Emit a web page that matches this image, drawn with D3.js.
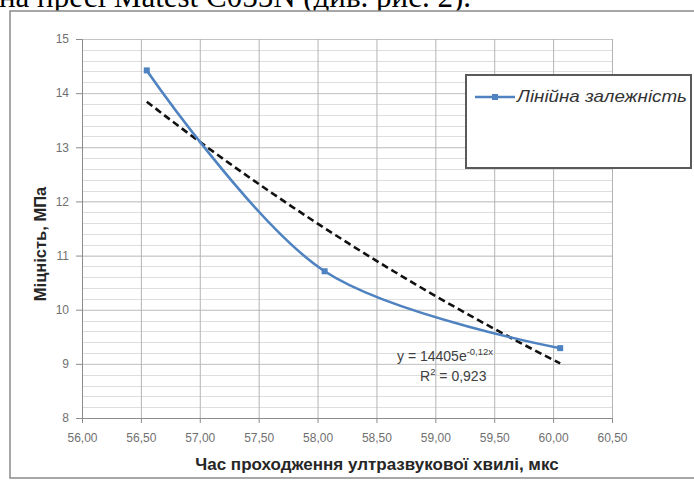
<!DOCTYPE html>
<html>
<head>
<meta charset="utf-8">
<script src="https://cdn.jsdelivr.net/npm/d3@7"></script>
<style>
  body { margin: 0; background: #fff; }
  svg { display: block; }
</style>
</head>
<body>
<svg id="chart" width="694" height="482"></svg>
<script>
// data
const timeValues = [56.55, 58.06, 60.06];      // мкс
const strengthValues = [14.42, 10.71, 9.29];   // МПа
const xTicks = [56, 56.5, 57, 57.5, 58, 58.5, 59, 59.5, 60, 60.5];
const yTicks = [8, 9, 10, 11, 12, 13, 14, 15];
const seriesName = "Лінійна залежність";
const equationText = "y = 14405e";
const equationPower = "-0,12x";
const rSquaredText = "0,923";

const svg = d3.select("#chart");
const fontSans = "'Liberation Sans', Arial, sans-serif";

// page text cut at the top
svg.append("text")
  .attr("x", -1).attr("y", 7)
  .attr("font-family", "'Liberation Serif', 'Times New Roman', serif")
  .attr("font-size", 31)
  .attr("fill", "#000")
  .text("на пресі Matest C055N (див. рис. 2).");

// chart frame
svg.append("rect")
  .attr("x", 10).attr("y", 11)
  .attr("width", 700).attr("height", 467)
  .attr("fill", "#fff")
  .attr("stroke", "#8a8a8a").attr("stroke-width", 1.5);

const plot = { left: 82, right: 612, top: 39, bottom: 418 };

const x = d3.scaleLinear().domain([56, 60.5]).range([plot.left, plot.right]);
const y = d3.scaleLinear().domain([8, 15]).range([plot.bottom, plot.top]);

// minor horizontal gridlines
const minorY = d3.range(8, 15.001, 0.2);
svg.append("g").selectAll("line")
  .data(minorY)
  .join("line")
  .attr("x1", plot.left).attr("x2", plot.right)
  .attr("y1", d => Math.round(y(d)) + 0.5).attr("y2", d => Math.round(y(d)) + 0.5)
  .attr("stroke", "#dedede");

// major horizontal gridlines
svg.append("g")
  .attr("transform", `translate(${plot.left},0)`)
  .call(d3.axisLeft(y).tickValues(yTicks).tickSize(-(plot.right - plot.left)).tickFormat(""))
  .call(g => g.select(".domain").remove())
  .call(g => g.selectAll("line").attr("stroke", "#c4c4c4"));

// vertical gridlines
svg.append("g")
  .attr("transform", `translate(0,${plot.bottom})`)
  .call(d3.axisBottom(x).tickValues(xTicks).tickSize(-(plot.bottom - plot.top)).tickFormat(""))
  .call(g => g.select(".domain").remove())
  .call(g => g.selectAll("line").attr("stroke", "#b4b4b4"));

// y axis
svg.append("g")
  .attr("transform", `translate(${plot.left},0)`)
  .call(d3.axisLeft(y).tickValues(yTicks).tickSize(6).tickPadding(7).tickFormat(d3.format("d")))
  .call(g => g.select(".domain").attr("stroke", "#8c8c8c"))
  .call(g => g.selectAll("line").attr("stroke", "#8c8c8c"))
  .call(g => g.selectAll("text")
    .attr("font-family", fontSans).attr("font-size", 12).attr("fill", "#707070"));

// x axis
const commaFmt = d => d3.format(".2f")(d).replace(".", ",");
svg.append("g")
  .attr("transform", `translate(0,${plot.bottom})`)
  .call(d3.axisBottom(x).tickValues(xTicks).tickSize(5).tickPadding(10).tickFormat(commaFmt))
  .call(g => g.select(".domain").attr("stroke", "#8c8c8c"))
  .call(g => g.selectAll("line").attr("stroke", "#8c8c8c"))
  .call(g => g.selectAll("text")
    .attr("font-family", fontSans).attr("font-size", 12).attr("fill", "#707070"));

// axis titles
svg.append("text")
  .attr("x", 377).attr("y", 470)
  .attr("text-anchor", "middle")
  .attr("font-family", fontSans).attr("font-size", 17).attr("font-weight", "bold")
  .attr("fill", "#262626")
  .text("Час проходження ултразвукової хвилі, мкс");

svg.append("text")
  .attr("transform", "translate(46,244) rotate(-90)")
  .attr("text-anchor", "middle")
  .attr("font-family", fontSans).attr("font-size", 16.5).attr("font-weight", "bold")
  .attr("fill", "#262626")
  .text("Міцність, МПа");

// exponential trendline fitted from the points (least squares on ln y)
const points = timeValues.map((t, i) => ({ t, s: strengthValues[i] }));
const mx = d3.mean(points, p => p.t);
const my = d3.mean(points, p => Math.log(p.s));
const b = d3.sum(points, p => (p.t - mx) * (Math.log(p.s) - my)) /
          d3.sum(points, p => (p.t - mx) ** 2);
const lnA = my - b * mx;
const tMin = d3.min(timeValues), tMax = d3.max(timeValues);
const trendX = d3.range(0, 21).map(i => tMin + i * (tMax - tMin) / 20);

svg.append("path")
  .datum(trendX)
  .attr("fill", "none")
  .attr("stroke", "#111")
  .attr("stroke-width", 2.6)
  .attr("stroke-dasharray", "7,4")
  .attr("d", d3.line().x(d => x(d)).y(d => y(Math.exp(lnA + b * d))));

// smoothed data line
const blue = "#4f82c0";
svg.append("path")
  .datum(points)
  .attr("fill", "none")
  .attr("stroke", blue)
  .attr("stroke-width", 2.6)
  .attr("d", d3.line().x(p => x(p.t)).y(p => y(p.s)).curve(d3.curveCatmullRom.alpha(0.5)));

svg.append("g").selectAll("rect")
  .data(points)
  .join("rect")
  .attr("x", p => x(p.t) - 3).attr("y", p => y(p.s) - 3)
  .attr("width", 6).attr("height", 6)
  .attr("fill", blue);

// trendline label
const eq = svg.append("text")
  .attr("x", 397).attr("y", 361)
  .attr("font-family", fontSans).attr("font-size", 14).attr("fill", "#404040");
eq.append("tspan").text(equationText);
eq.append("tspan").attr("dy", -6).attr("font-size", 9.5).text(equationPower);

const r2 = svg.append("text")
  .attr("x", 420).attr("y", 381)
  .attr("font-family", fontSans).attr("font-size", 14).attr("fill", "#404040");
r2.append("tspan").text("R");
r2.append("tspan").attr("dy", -6).attr("font-size", 9.5).text("2");
r2.append("tspan").attr("dy", 6).text(" = " + rSquaredText);

// legend
const legend = svg.append("g");
legend.append("rect")
  .attr("x", 466).attr("y", 75)
  .attr("width", 225).attr("height", 93)
  .attr("fill", "#fff")
  .attr("stroke", "#5a5a5a").attr("stroke-width", 2);
legend.append("line")
  .attr("x1", 475).attr("x2", 515).attr("y1", 97).attr("y2", 97)
  .attr("stroke", blue).attr("stroke-width", 2.6);
legend.append("rect")
  .attr("x", 492).attr("y", 94).attr("width", 6).attr("height", 6)
  .attr("fill", blue);
legend.append("text")
  .attr("x", 517).attr("y", 102)
  .attr("font-family", fontSans).attr("font-size", 17).attr("font-style", "italic")
  .attr("textLength", 170).attr("lengthAdjust", "spacingAndGlyphs")
  .attr("fill", "#333")
  .text(seriesName);
</script>
</body>
</html>
